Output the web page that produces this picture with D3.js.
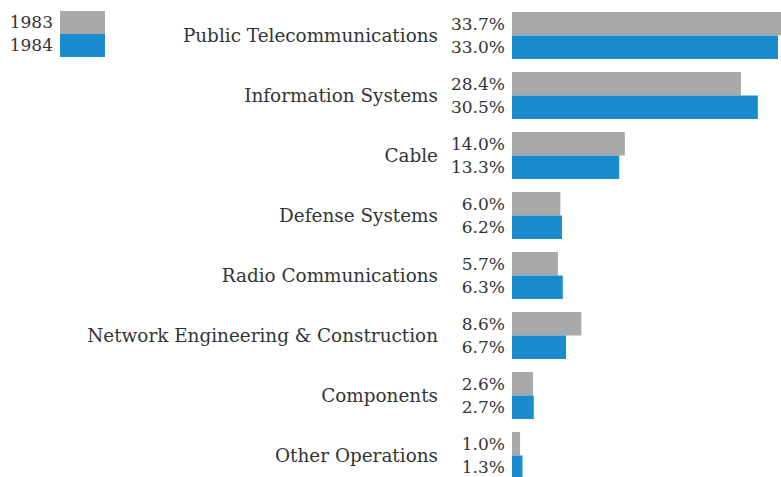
<!DOCTYPE html>
<html>
<head>
<meta charset="utf-8">
<script src="https://cdn.jsdelivr.net/npm/d3@7"></script>
<style>
  body { margin: 0; background: #fff; }
  svg { display: block; }
  text { font-family: "DejaVu Serif", serif; fill: #333; }
</style>
</head>
<body>
<svg id="chart" width="781" height="477"></svg>
<script>
(function() {
    var categories = ["Public Telecommunications", "Information Systems", "Cable", "Defense Systems",
        "Radio Communications", "Network Engineering & Construction", "Components", "Other Operations"];
    var years = ["1983", "1984"];
    var values1983 = [33.7, 28.4, 14.0, 6.0, 5.7, 8.6, 2.6, 1.0];
    var values1984 = [33.0, 30.5, 13.3, 6.2, 6.3, 6.7, 2.7, 1.3];
    var couleurs = ["#a9a9a9", "#1b8bd0"];

    var svg = d3.select("#chart"),
        width = +svg.attr("width"),
        height = +svg.attr("height");

    // rangées : une par catégorie
    var y = d3.scaleBand().domain(categories).range([12, 479]).paddingInner(0.2167).paddingOuter(0).align(0);
    var ySub = d3.scaleBand().domain(years).range([0, y.bandwidth()]);
    var x = d3.scaleLinear().domain([0, 33]).range([512, 778]);
    var color = d3.scaleOrdinal(years, couleurs);

    var data = categories.map(function(c, i) {
        return { cat: c, vals: [values1983[i], values1984[i]] };
    });

    var g = svg.selectAll("g.row").data(data).enter().append("g")
        .attr("class", "row")
        .attr("transform", function(d) { return "translate(0," + y(d.cat) + ")"; });

    g.append("text")
        .attr("x", 438)
        .attr("y", y.bandwidth() / 2)
        .attr("dy", "0.35em")
        .attr("text-anchor", "end")
        .style("font-size", "18.4px")
        .text(function(d) { return d.cat; });

    g.selectAll("rect").data(function(d) { return d.vals.map(function(v, j) { return { yr: years[j], v: v }; }); })
        .enter().append("rect")
        .attr("x", x(0))
        .attr("y", function(d) { return ySub(d.yr); })
        .attr("width", function(d) { return x(d.v) - x(0); })
        .attr("height", ySub.bandwidth())
        .attr("fill", function(d) { return color(d.yr); });

    g.selectAll("text.val").data(function(d) { return d.vals.map(function(v, j) { return { yr: years[j], v: v }; }); })
        .enter().append("text")
        .attr("class", "val")
        .attr("x", 505)
        .attr("y", function(d) { return ySub(d.yr) + ySub.bandwidth() / 2; })
        .attr("dy", "0.35em")
        .attr("text-anchor", "end")
        .style("font-size", "17px")
        .text(function(d) { return d.v.toFixed(1) + "%"; });

    // légende
    var leg = svg.append("g");
    var ly = d3.scaleBand().domain(years).range([11, 57]);
    leg.selectAll("rect").data(years).enter().append("rect")
        .attr("x", 60).attr("y", function(d) { return ly(d); })
        .attr("width", 45).attr("height", ly.bandwidth())
        .attr("fill", function(d) { return color(d); });
    leg.selectAll("text").data(years).enter().append("text")
        .attr("x", 53).attr("y", function(d) { return ly(d) + ly.bandwidth() / 2; })
        .attr("dy", "0.35em")
        .attr("text-anchor", "end")
        .style("font-size", "17px")
        .text(function(d) { return d; });
})();
</script>
</body>
</html>
